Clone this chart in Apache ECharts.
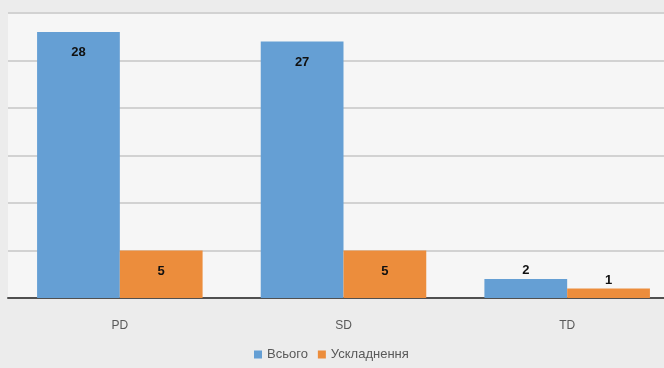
<!DOCTYPE html>
<html><head><meta charset="utf-8">
<script src="https://cdn.jsdelivr.net/npm/echarts@6/dist/echarts.min.js"></script>
<style>html,body{margin:0;padding:0;background:#ececec;overflow:hidden;}#c{width:680px;height:368px;}</style>
</head><body><div id="c"></div>
<script>
const categories = ['PD', 'SD', 'TD'];
const totalValues = [28, 27, 2];
const complicationValues = [5, 5, 1];
const seriesNames = ['Всього', 'Ускладнення'];

function labelFor(v) {
  return v >= 3 ? { position: 'insideTop', distance: 14 } : { position: 'top', distance: 2 };
}
function mk(vals) {
  return vals.map(v => ({ value: v, label: labelFor(v) }));
}
const chart = echarts.init(document.getElementById('c'));
chart.setOption({
  animation: false,
  backgroundColor: '#ececec',
  grid: { left: 8, top: 13, width: 671, height: 285, show: true, backgroundColor: '#f6f6f6', borderWidth: 0 },
  legend: {
    bottom: 2, left: 249, itemWidth: 8, itemHeight: 8, itemGap: 10, icon: 'rect',
    textStyle: { color: '#595959', fontSize: 13, fontFamily: 'Liberation Sans' }
  },
  xAxis: {
    type: 'category', data: categories,
    axisLine: { lineStyle: { color: '#505050', width: 2 } },
    axisTick: { show: false },
    axisLabel: { color: '#595959', fontSize: 12, margin: 22, fontFamily: 'Liberation Sans' }
  },
  yAxis: {
    type: 'value', min: 0, max: 30, interval: 5,
    axisLabel: { show: false }, axisLine: { show: false }, axisTick: { show: false },
    splitLine: { lineStyle: { color: '#d2d2d2', width: 2 } }
  },
  series: [
    { name: seriesNames[0], type: 'bar', data: mk(totalValues), barGap: '0%', barCategoryGap: '26%',
      itemStyle: { color: '#659fd4' },
      label: { show: true, color: '#111', fontWeight: 'bold', fontSize: 13, fontFamily: 'Liberation Sans' } },
    { name: seriesNames[1], type: 'bar', data: mk(complicationValues),
      itemStyle: { color: '#ec8d3c' },
      label: { show: true, color: '#111', fontWeight: 'bold', fontSize: 13, fontFamily: 'Liberation Sans' } }
  ]
});
</script></body></html>
